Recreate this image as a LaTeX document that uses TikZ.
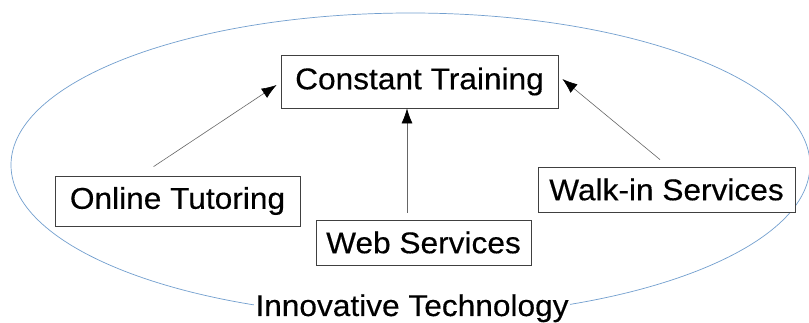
\documentclass[tikz,border=0pt]{standalone}
\usepackage{fontspec}
\setmainfont{Liberation Sans}
\newfontfamily\labelfont{Liberation Sans}[FakeBold=0.35]
\usepackage{graphicx}
\usetikzlibrary{arrows.meta,calc}
% slightly widened lettering
\newcommand{\widetext}[1]{\scalebox{1.055}[1]{#1}}
\definecolor{rimblue}{RGB}{114,159,207}
\begin{document}
\begin{tikzpicture}[x=1pt,y=-1pt,
  box/.style={draw=black!75, line width=0.8pt, fill=white, inner sep=0pt,
              font=\labelfont\fontsize{30}{36}\selectfont},
  link/.style={draw=black!60, line width=0.6pt,
               -{Latex[length=15pt,width=11pt,color=black]}},
  caption/.style={fill=white, inner xsep=1pt, inner ysep=2pt,
                  font=\labelfont\fontsize{30}{36}\selectfont},
]
\useasboundingbox (0,0) rectangle (809,323);
\fill[white] (0,0) rectangle (809,323);

% surrounding ellipse
\draw[rimblue, line width=0.7pt] (410.5,165) ellipse [x radius=399.5pt, y radius=152pt];

% boxes
\node[box, minimum width=277pt, minimum height=53pt] (ct) at (419.5,81.5) {\widetext{Constant Training}};
\node[box, minimum width=245pt, minimum height=50pt] (ot) at (177.5,201) {\widetext{Online Tutoring}};
\node[box, minimum width=215pt, minimum height=45pt] (ws) at (423.5,242.5) {\widetext{Web Services}};
\node[box, minimum width=257pt, minimum height=45pt] (wi) at (666.5,189.5) {\widetext{Walk-in Services}};

% caption on the ellipse rim
\node[caption, anchor=base] (it) at (412,316) {\widetext{Innovative Technology}};

% connector ends
\coordinate (otA) at ($(ot.north west)+(99,-9)$);
\coordinate (otB) at ($(ct.west)+(-4,3.5)$);
\coordinate (wsA) at ($(ws.north)+(-16.5,-7)$);
\coordinate (wsB) at ($(ct.south)+(-12.5,0)$);
\coordinate (wiA) at ($(wi.north)+(-6.5,-7)$);
\coordinate (wiB) at ($(ct.east)+(4,-2.5)$);

% connectors
\draw[link] (otA) -- (otB);
\draw[link] (wsA) -- (wsB);
\draw[link] (wiA) -- (wiB);
\end{tikzpicture}
\end{document}
